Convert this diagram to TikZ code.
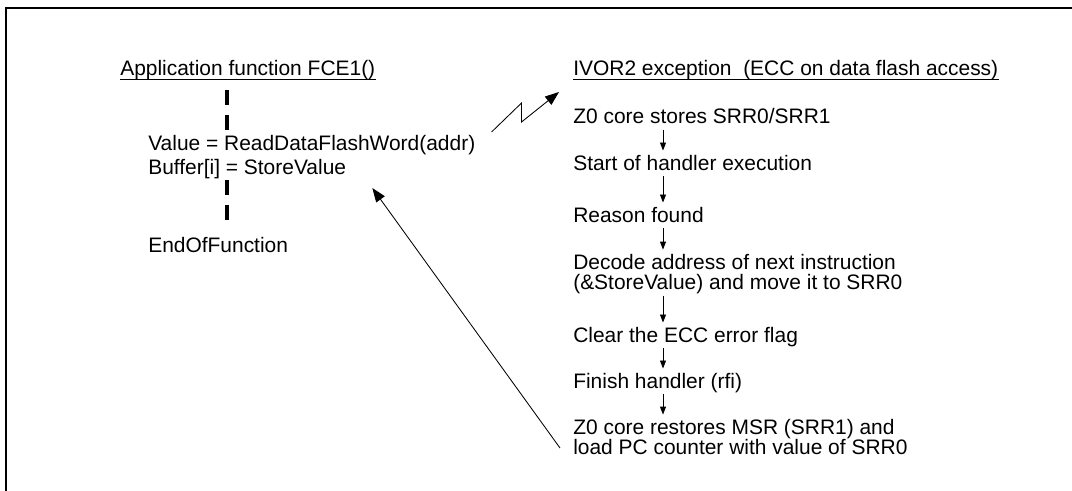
\documentclass[tikz,border=0pt]{standalone}
\usepackage{fontspec}
\setmainfont{Liberation Sans}
\usetikzlibrary{arrows.meta, calc}
\tikzset{
  txt/.style      = {anchor=base west, inner sep=0pt, align=left,
                     font=\fontsize{14.9pt}{14.2pt}\selectfont},
  line/.style     = {txt, text height=0.38cm, text depth=0.1cm},
  lifeline/.style = {line width=2.8pt, dash pattern=on 0.375cm off 0.25cm},
  flow/.style     = {-{Triangle[length=0.2cm, width=0.15cm]}, line width=0.6pt,
                     shorten <=0.05cm, shorten >=0.1cm},
  jump/.style     = {-{Triangle[length=0.35cm, width=0.26cm]}, line width=0.6pt},
  uline/.style    = {line width=0.7pt}
}

\begin{document}
\begin{tikzpicture}
\useasboundingbox (0,0) rectangle (26.8,-12.275);
% frame
\draw[line width=1.4pt] (0.15,-12.275) -- (0.15,-0.19) -- (26.8,-0.19);

% application side
\node[line] (fce) at (3.0,-1.9) {Application function FCE1()};
\draw[uline] ([yshift=-0.075cm]fce.base west) -- ([yshift=-0.075cm]fce.base east);
\node[line] (value) at (3.7,-3.775) {Value = ReadDataFlashWord(addr)};
\node[line] (buffer) at (3.7,-4.35) {Buffer[i] = StoreValue};
\node[line] (endfn) at (3.7,-6.3) {EndOfFunction};
\coordinate (dx) at (5.675,0);
\draw[lifeline, shorten <=0.24cm, shorten >=0.14cm] (fce.south -| dx) -- (value.north -| dx);
\draw[lifeline, shorten <=0.05cm, shorten >=0.3cm] (buffer.south -| dx) -- (endfn.north -| dx);

% exception handler (base of a two-line node is its last line)
\node[line] (ivor) at (14.325,-1.9) {IVOR2 exception~~(ECC on data flash access)};
\draw[uline] ([yshift=-0.075cm]ivor.base west) -- ([yshift=-0.075cm]ivor.base east);
\node[line] (store) at (14.325,-3.1) {Z0 core stores SRR0/SRR1};
\node[line] (start) at (14.325,-4.25) {Start of handler execution};
\node[line] (reason) at (14.325,-5.55) {Reason found};
\node[txt] (decode) at (14.325,-7.225) {Decode address of next instruction\\(\&StoreValue) and move it to SRR0};
\node[line] (clear) at (14.325,-8.55) {Clear the ECC error flag};
\node[line] (finish) at (14.325,-9.7) {Finish handler (rfi)};
\node[txt] (restore) at (14.325,-11.35) {Z0 core restores MSR (SRR1) and\\load PC counter with value of SRR0};

\coordinate (ax) at (16.575,0);
\draw[flow] (store.south -| ax) -- (start.north -| ax);
\draw[flow] (start.south -| ax) -- (reason.north -| ax);
\draw[flow] (reason.south -| ax) -- (decode.north -| ax);
\draw[flow] (decode.south -| ax) -- (clear.north -| ax);
\draw[flow] (clear.south -| ax) -- (finish.north -| ax);
\draw[flow] (finish.south -| ax) -- (restore.north -| ax);

% exception entry and return
\draw[jump] ([shift={(0.4,0.475)}]value.base east) -- ++(0.75,0.725) -- ++(0,-0.475)
  -- ([shift={(-0.35,-0.4)}]ivor.base west);
\draw[jump] ([shift={(-0.325,0.15)}]restore.base west) -- ([shift={(0.65,-0.35)}]buffer.base east);
\end{tikzpicture}
\end{document}
